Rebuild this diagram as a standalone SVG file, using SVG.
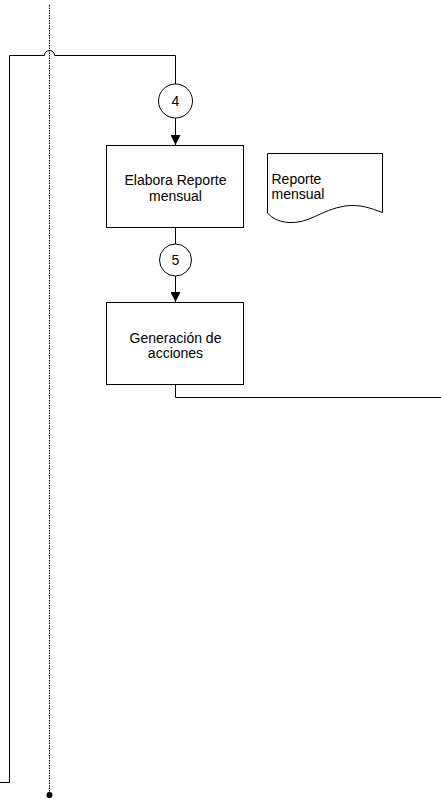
<svg xmlns="http://www.w3.org/2000/svg" width="441" height="799" viewBox="0 0 441 799">
  <style>
    .ln { fill: none; stroke: #000; stroke-width: 1; }
    .box { fill: #fff; stroke: #000; stroke-width: 1; }
    .lane { fill: none; stroke: #000; stroke-width: 1; stroke-dasharray: 1.5 1; }
    .t { font-family: "Liberation Sans", Arial, sans-serif; font-size: 14px; fill: #000; }
    .c { text-anchor: middle; }
  </style>
  <defs>
    <marker id="arrow" viewBox="0 0 10 10" refX="10" refY="5" markerWidth="10" markerHeight="10" markerUnits="userSpaceOnUse" orient="auto">
      <path d="M0,0 L10,5 L0,10 Z" fill="#000"/>
    </marker>
  </defs>

  <!-- swimlane divider -->
  <g id="lane">
    <line class="lane" x1="49.5" y1="5" x2="49.5" y2="795"/>
    <circle cx="49.5" cy="795" r="3" fill="#000"/>
  </g>

  <!-- connectors -->
  <g id="connectors">
    <path class="ln" d="M0,782.5 H9.5 V55.5 H44.5 A5,5 0 0 1 54.5,55.5 H175.5 V84"/>
    <line class="ln" x1="175.5" y1="118" x2="175.5" y2="145" marker-end="url(#arrow)"/>
    <line class="ln" x1="175.5" y1="227" x2="175.5" y2="244"/>
    <line class="ln" x1="175.5" y1="276" x2="175.5" y2="302" marker-end="url(#arrow)"/>
    <path class="ln" d="M175.5,384 V397.5 H441"/>
  </g>

  <g id="conn4">
    <circle class="box" cx="175.5" cy="101" r="17"/>
    <text class="t c" x="175.5" y="106">4</text>
  </g>

  <g id="elabora">
    <rect class="box" x="106.5" y="145.5" width="137" height="82"/>
    <text class="t c" x="175.5" y="184.5">Elabora Reporte</text>
    <text class="t c" x="175.5" y="200.5">mensual</text>
  </g>

  <g id="reporte">
    <path class="box" d="M267.5,153.5 H382.5 V212.5 C370,208 360,204 345,206 C320,210 310,224 288,222.5 C278,221.5 272,218 267.5,213 Z"/>
    <text class="t" x="271.5" y="183.5">Reporte</text>
    <text class="t" x="271.5" y="198.5">mensual</text>
  </g>

  <g id="conn5">
    <circle class="box" cx="175.5" cy="260" r="16"/>
    <text class="t c" x="175.5" y="265">5</text>
  </g>

  <g id="generacion">
    <rect class="box" x="106.5" y="302.5" width="137" height="82"/>
    <text class="t c" x="175.5" y="342.5">Generación de</text>
    <text class="t c" x="175.5" y="357.5">acciones</text>
  </g>
</svg>
